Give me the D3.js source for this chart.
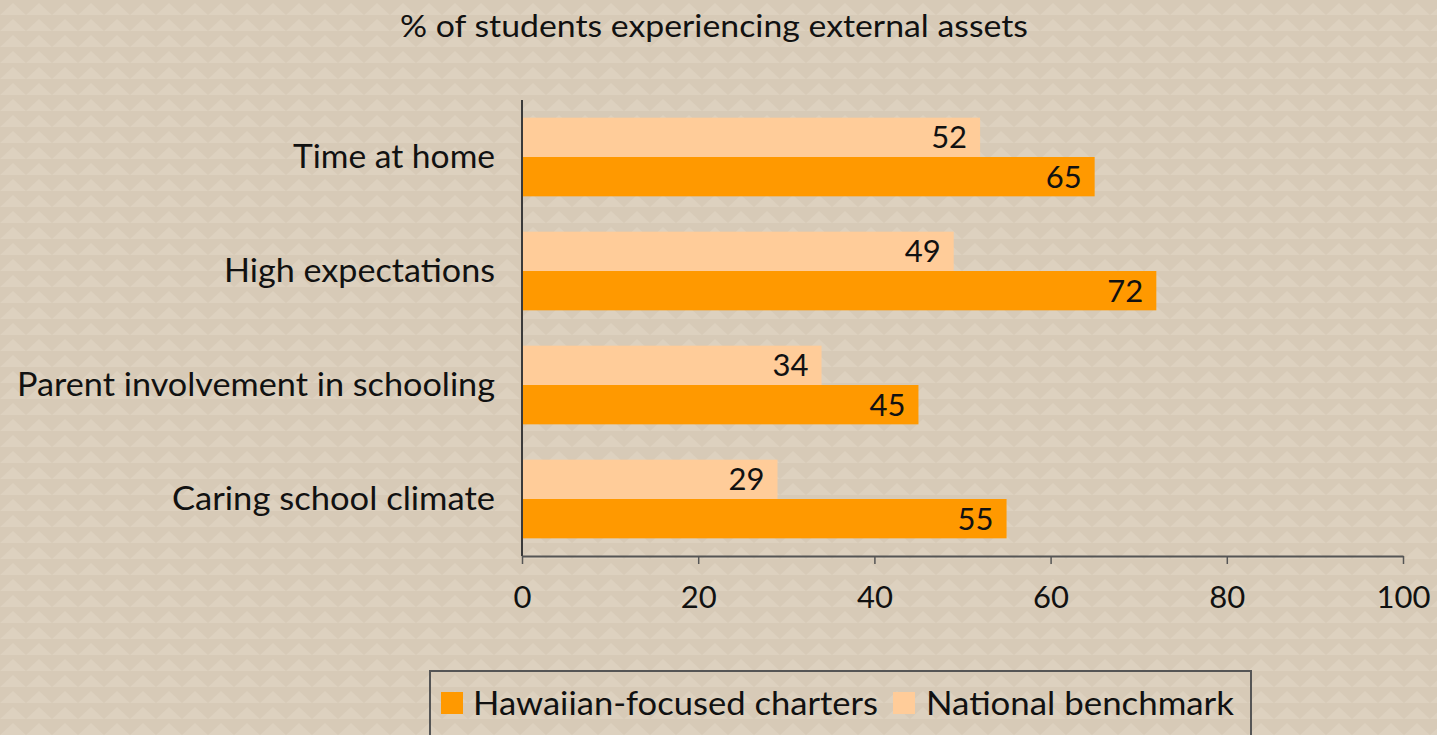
<!DOCTYPE html>
<html><head><meta charset="utf-8">
<script src="https://cdn.jsdelivr.net/npm/d3@7"></script>
<style>
html,body{margin:0;padding:0;background:#d8cbb9;overflow:hidden;}
text{font-family:"Lato","Open Sans",sans-serif;fill:#111;}
</style></head>
<body>
<svg id="chart" width="1437" height="735"></svg>
<script>
const title = "% of students experiencing external assets";
const categories = ["Time at home","High expectations","Parent involvement in schooling","Caring school climate"];
const seriesNames = ["National benchmark","Hawaiian-focused charters"];
const nationalBenchmark = [52,49,34,29];
const hawaiianCharters = [65,72,45,55];
const xTicks = [0,20,40,60,80,100];
const colors = {"Hawaiian-focused charters":"#ff9900","National benchmark":"#ffcc99"};

const svg = d3.select("#chart");
const W = 1437, H = 735;
const defs = svg.append("defs");
const pat = defs.append("pattern").attr("id","bgpat").attr("patternUnits","userSpaceOnUse")
  .attr("width",26).attr("height",16);
pat.append("rect").attr("width",26).attr("height",16).attr("fill","#d7cab7");
pat.append("path").attr("d","M0,15 L13,3 L26,15 Z").attr("fill","#ddd1bf");
svg.append("rect").attr("width",W).attr("height",H).attr("fill","url(#bgpat)");

const m = {left:522, right:1403, top:100, bottom:556};
const x = d3.scaleLinear().domain([0,100]).range([m.left,m.right]);
const y0 = d3.scaleBand().domain(categories).range([m.top,m.bottom]).paddingInner(0.31).paddingOuter(0.155);
const y1 = d3.scaleBand().domain(seriesNames).range([0,y0.bandwidth()]);

const data = categories.map((c,i)=>({cat:c, vals:[
  {s:"National benchmark", v:nationalBenchmark[i]},
  {s:"Hawaiian-focused charters", v:hawaiianCharters[i]}]}));

const g = svg.append("g");
const grp = g.selectAll("g.grp").data(data).join("g").attr("class","grp")
  .attr("transform",d=>`translate(0,${y0(d.cat)})`);
grp.selectAll("rect").data(d=>d.vals).join("rect")
  .attr("x",x(0)).attr("y",d=>y1(d.s)).attr("width",d=>x(d.v)-x(0))
  .attr("height",y1.bandwidth()).attr("fill",d=>colors[d.s]);
grp.selectAll("text.val").data(d=>d.vals).join("text").attr("class","val")
  .attr("x",d=>x(d.v)-13).attr("y",d=>y1(d.s)+y1.bandwidth()/2+11)
  .attr("text-anchor","end").style("font-size","31px").text(d=>d.v);

// category labels
const catW = {"Time at home":202,"High expectations":271,"Parent involvement in schooling":478,"Caring school climate":323};
svg.selectAll("text.cat").data(categories).join("text").attr("class","cat")
  .attr("x",495).attr("y",d=>y0(d)+y0.bandwidth()/2+11)
  .attr("text-anchor","end").style("font-size","32px")
  .attr("textLength",d=>catW[d]).attr("lengthAdjust","spacingAndGlyphs").text(d=>d);

// y axis line
svg.append("line").attr("x1",m.left).attr("x2",m.left).attr("y1",m.top).attr("y2",m.bottom)
  .attr("stroke","#3a3a3a").attr("stroke-width",2);

// x axis
const xa = svg.append("g").attr("transform",`translate(0,${m.bottom})`)
  .call(d3.axisBottom(x).tickValues(xTicks).tickSize(8).tickSizeOuter(0).tickPadding(22));
xa.select(".domain").attr("stroke","#555").attr("stroke-width",2);
xa.selectAll(".tick line").attr("stroke","#555").attr("stroke-width",1.5);
xa.selectAll(".tick text").style("font-size","31px").style("font-family","Lato, sans-serif").attr("fill","#111");

// title
svg.append("text").attr("x",714).attr("y",37).attr("text-anchor","middle")
  .style("font-size","31px").attr("textLength",628).attr("lengthAdjust","spacingAndGlyphs").text(title);

// legend
const lg = svg.append("g");
lg.append("rect").attr("x",430).attr("y",671).attr("width",821).attr("height",80)
  .attr("fill","none").attr("stroke","#555").attr("stroke-width",2);
const legendItems = [
  {s:"Hawaiian-focused charters", sx:441, tx:473, tw:405},
  {s:"National benchmark", sx:893, tx:926, tw:308}];
lg.selectAll("rect.sw").data(legendItems).join("rect").attr("class","sw")
  .attr("x",d=>d.sx).attr("y",692).attr("width",22).attr("height",22).attr("fill",d=>colors[d.s]);
lg.selectAll("text.lt").data(legendItems).join("text").attr("class","lt")
  .attr("x",d=>d.tx).attr("y",715).style("font-size","32px")
  .attr("textLength",d=>d.tw).attr("lengthAdjust","spacingAndGlyphs").text(d=>d.s);
</script>
</body></html>
